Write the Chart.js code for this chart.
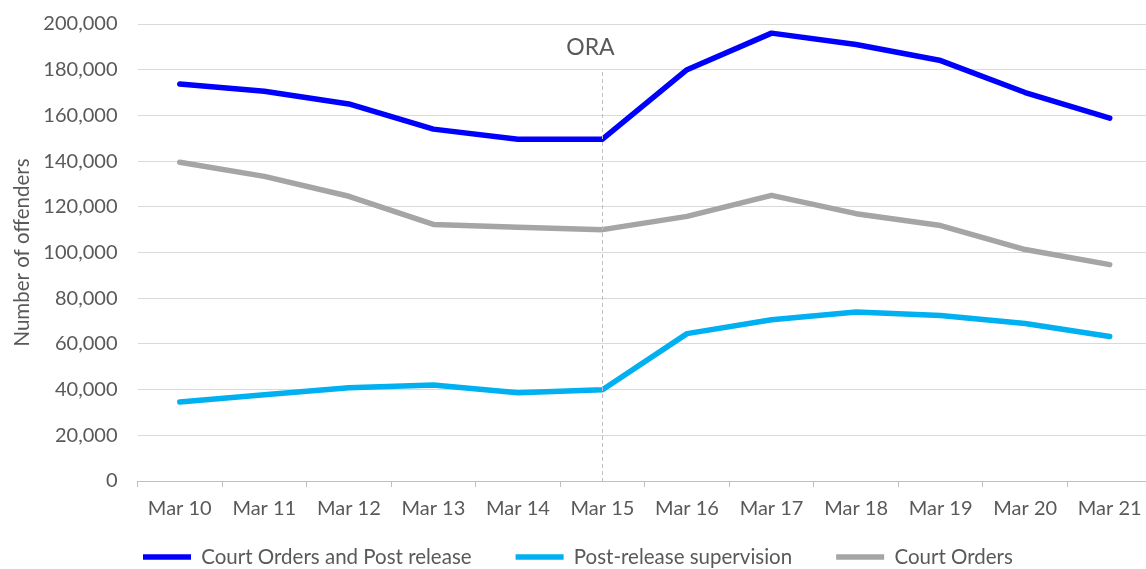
<!DOCTYPE html>
<html>
<head>
<meta charset="utf-8">
<script src="https://cdn.jsdelivr.net/npm/chart.js@4.4.1/dist/chart.umd.min.js"></script>
<style>
  html, body { margin: 0; padding: 0; background: #ffffff; overflow: hidden; }
  #wrap { width: 1160px; height: 569px; }
</style>
</head>
<body>
<div id="wrap"><canvas id="c" width="1160" height="569"></canvas></div>
<script>
const categories = ['Mar 10','Mar 11','Mar 12','Mar 13','Mar 14','Mar 15','Mar 16','Mar 17','Mar 18','Mar 19','Mar 20','Mar 21'];
const courtOrdersAndPostRelease = [173700, 170600, 165000, 154000, 149600, 149600, 180000, 196000, 191000, 184000, 170000, 158800];
const postReleaseSupervision = [34600, 37700, 40800, 42000, 38600, 39900, 64500, 70600, 74000, 72400, 68900, 63200];
const courtOrders = [139500, 133300, 124600, 112300, 111000, 110000, 115800, 125000, 117000, 111800, 101300, 94700];
const seriesNames = ['Court Orders and Post release', 'Post-release supervision', 'Court Orders'];
const yTicks = [0, 20000, 40000, 60000, 80000, 100000, 120000, 140000, 160000, 180000, 200000];
const markerCategory = 'Mar 15';
const markerLabel = 'ORA';

const FONT = 'Lato';
const TXT = '#595959';

const oraPlugin = {
  id: 'ora',
  afterDatasetsDraw(chart) {
    const {ctx, scales: {x, y}, chartArea} = chart;
    const px = x.getPixelForValue(categories.indexOf(markerCategory));
    ctx.save();
    ctx.strokeStyle = '#bfbfbf';
    ctx.lineWidth = 1;
    ctx.setLineDash([4, 3]);
    ctx.beginPath();
    ctx.moveTo(Math.round(px) + 0.5, y.getPixelForValue(179000));
    ctx.lineTo(Math.round(px) + 0.5, chartArea.bottom);
    ctx.stroke();
    ctx.setLineDash([]);
    ctx.fillStyle = TXT;
    ctx.font = '23px ' + FONT;
    ctx.textAlign = 'center';
    ctx.textBaseline = 'middle';
    ctx.fillText(markerLabel, px - 12, y.getPixelForValue(189500));
    ctx.restore();
  }
};

// position the legend row like the reference (start at x≈143, centre line at y≈557)
const legendShift = {
  id: 'legendShift',
  afterLayout(chart) {
    const L = chart.legend;
    if (!L) return;
    const pad = L.options.labels.padding;
    const fs = L.options.labels.font.size;
    const dx = 143 - (L.left + pad);
    L.left += dx;
    L.right += dx;
    L.width = L.right - L.left;
    L.top = 557 - pad - fs / 2;
    L.bottom = chart.height + 40;
    L.height = L.bottom - L.top;
  }
};

const lineStyle = { borderWidth: 5.5, pointRadius: 0, tension: 0, borderCapStyle: 'round', borderJoinStyle: 'round' };

new Chart(document.getElementById('c'), {
  type: 'line',
  data: {
    labels: categories,
    datasets: [
      Object.assign({ label: seriesNames[0], data: courtOrdersAndPostRelease, borderColor: '#0000ff', backgroundColor: '#0000ff' }, lineStyle),
      Object.assign({ label: seriesNames[1], data: postReleaseSupervision, borderColor: '#00b0f0', backgroundColor: '#00b0f0' }, lineStyle),
      Object.assign({ label: seriesNames[2], data: courtOrders, borderColor: '#a5a5a5', backgroundColor: '#a5a5a5' }, lineStyle)
    ]
  },
  options: {
    responsive: false,
    animation: false,
    layout: { autoPadding: false, padding: { top: 24, right: 8, left: 0, bottom: 0 } },
    plugins: {
      tooltip: { enabled: false },
      legend: {
        position: 'bottom',
        align: 'start',
        maxHeight: 38,
        labels: {
          usePointStyle: true,
          pointStyle: 'line',
          pointStyleWidth: 48,
          color: TXT,
          font: { family: FONT, size: 20.5 },
          padding: 44
        }
      }
    },
    scales: {
      x: {
        offset: true,
        grid: { display: true, drawOnChartArea: false, drawTicks: true, tickLength: 6, color: '#bfbfbf', offset: true },
        border: { display: true, color: '#bfbfbf', width: 1 },
        ticks: { color: TXT, font: { family: FONT, size: 20 }, padding: 10, maxRotation: 0, autoSkip: false }
      },
      y: {
        min: 0, max: 200000,
        afterBuildTicks(scale) { scale.ticks = yTicks.map(v => ({ value: v })); },
        afterFit(scale) { scale.width = 137.5; scale.paddingTop = 0; scale.paddingBottom = 0; },
        grid: { color: '#d9d9d9', drawTicks: false },
        border: { display: false },
        ticks: {
          color: TXT, font: { family: FONT, size: 20 }, padding: 20,
          callback: v => v.toLocaleString('en-US')
        },
        title: { display: true, text: 'Number of offenders', color: TXT, font: { family: FONT, size: 20.5 }, padding: { top: 10, bottom: 0 } }
      }
    }
  },
  plugins: [oraPlugin, legendShift]
});
</script>
</body>
</html>
